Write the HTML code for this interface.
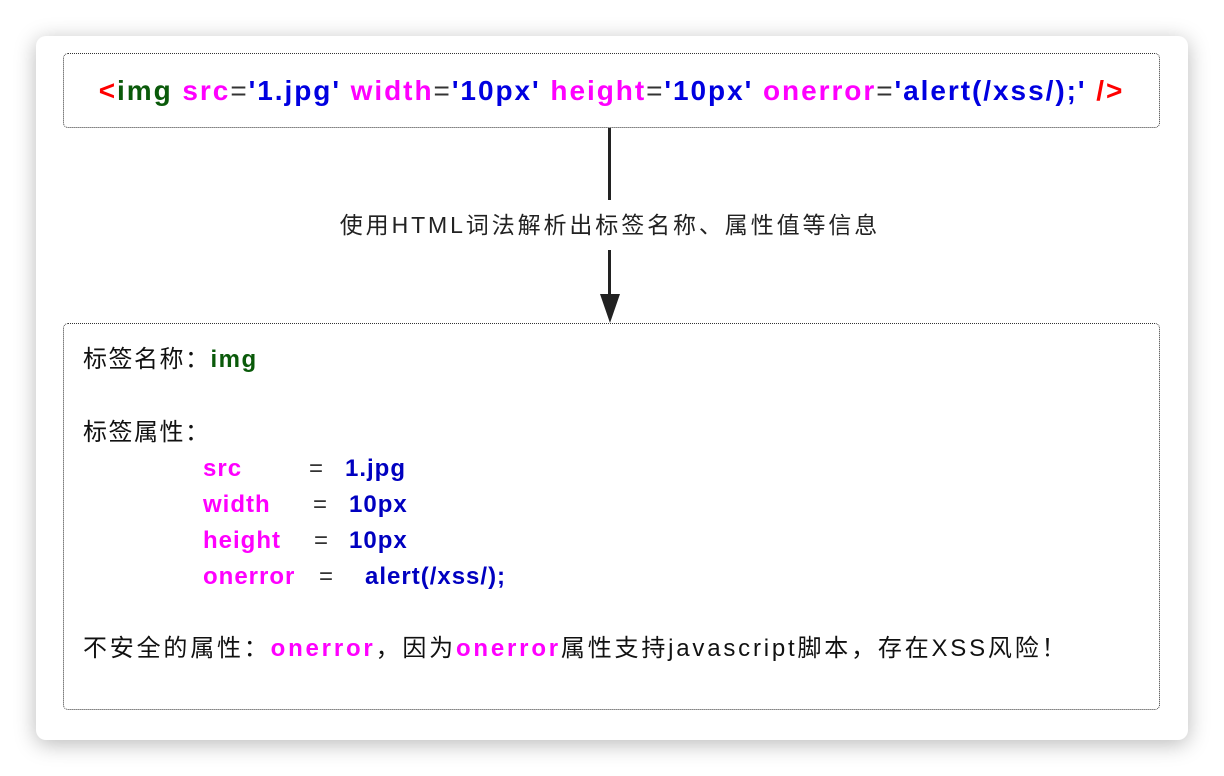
<!DOCTYPE html>
<html><head><meta charset="utf-8"><style>
body{margin:0;width:1224px;height:776px;background:#fff;position:relative;overflow:hidden;font-family:"Liberation Sans","Noto Sans CJK SC",sans-serif;}
.card{position:absolute;left:36px;top:36px;width:1152px;height:704px;background:#fff;border-radius:10px;box-shadow:0 4px 22px rgba(0,0,0,0.28);}
.box{position:absolute;border:1.5px dotted #333;border-radius:5px;box-sizing:border-box;}
.t{position:absolute;white-space:pre;line-height:1;}
.r{color:#f00}.g{color:#0a5a0a}.m{color:#f0f}.b{color:#0000e0}.k{color:#333}.db{color:#0000c0}
.bold{font-weight:bold}
</style></head><body>
<div class="card"></div>
<div class="box" style="left:63px;top:53px;width:1097px;height:75px"></div>
<div class="t bold" style="left:63px;width:1097px;text-align:center;top:77px;font-size:28px;letter-spacing:1.95px"><span class="r">&lt;</span><span class="g">img</span> <span class="m">src</span><span class="k" style="font-weight:normal">=</span><span class="b">'1.jpg'</span> <span class="m">width</span><span class="k" style="font-weight:normal">=</span><span class="b">'10px'</span> <span class="m">height</span><span class="k" style="font-weight:normal">=</span><span class="b">'10px'</span> <span class="m">onerror</span><span class="k" style="font-weight:normal">=</span><span class="b">'alert(/xss/);'</span> <span class="r">/&gt;</span></div>
<div style="position:absolute;left:608px;top:128px;width:3px;height:72px;background:#222"></div>
<div style="position:absolute;left:608px;top:250px;width:3px;height:48px;background:#222"></div>
<svg style="position:absolute;left:598px;top:294px" width="24" height="30"><polygon points="2,0 22,0 12,29" fill="#222"/></svg>
<div class="t" style="left:300px;top:214px;font-size:23px;color:#222;width:620px;text-align:center;letter-spacing:2.9px">使用HTML词法解析出标签名称、属性值等信息</div>
<div class="box" style="left:63px;top:323px;width:1097px;height:387px"></div>
<div class="t" style="left:83px;top:348px;font-size:24px;color:#111;letter-spacing:1.5px">标签名称：<span class="g bold">img</span></div>
<div class="t" style="left:83px;top:421px;font-size:24px;color:#111;letter-spacing:1.5px">标签属性：</div>
<div class="t bold m" style="left:203px;top:457px;font-size:24px;letter-spacing:1px">src</div>
<div class="t bold m" style="left:203px;top:493px;font-size:24px;letter-spacing:1px">width</div>
<div class="t bold m" style="left:203px;top:529px;font-size:24px;letter-spacing:1px">height</div>
<div class="t bold m" style="left:203px;top:565px;font-size:24px;letter-spacing:1px">onerror</div>
<div class="t k" style="left:309px;top:457px;font-size:24px">=</div>
<div class="t k" style="left:313px;top:493px;font-size:24px">=</div>
<div class="t k" style="left:314px;top:529px;font-size:24px">=</div>
<div class="t k" style="left:319px;top:565px;font-size:24px">=</div>
<div class="t bold db" style="left:345px;top:457px;font-size:24px;letter-spacing:1px">1.jpg</div>
<div class="t bold db" style="left:349px;top:493px;font-size:24px;letter-spacing:1px">10px</div>
<div class="t bold db" style="left:349px;top:529px;font-size:24px;letter-spacing:1px">10px</div>
<div class="t bold db" style="left:365px;top:565px;font-size:24px;letter-spacing:1px">alert(/xss/);</div>
<div class="t" style="left:83px;top:637px;font-size:24px;color:#111;letter-spacing:2.8px">不安全的属性：<span class="m bold">onerror</span>，因为<span class="m bold">onerror</span>属性支持javascript脚本，存在XSS风险！</div>
</body></html>
